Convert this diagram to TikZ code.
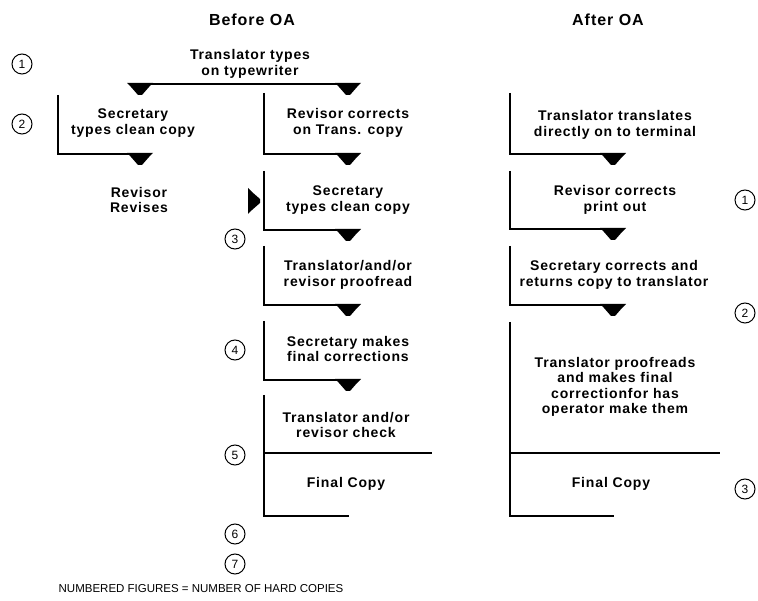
\documentclass[tikz,border=0pt]{standalone}
\usepackage{fontspec}
\setmainfont{Liberation Sans}
\newfontfamily\widefont[LetterSpace=6]{Liberation Sans}
\usetikzlibrary{calc}

\begin{document}
\begin{tikzpicture}[x=1pt,y=-1pt,line width=1.8pt,
  stage/.style={font=\widefont\bfseries\fontsize{14}{15.5}\selectfont,align=center,inner sep=0pt},
  headline/.style={font=\widefont\bfseries\fontsize{16}{18}\selectfont,inner sep=0pt},
  copies/.style={draw,circle,line width=1pt,inner sep=0pt,minimum size=20pt,font=\fontsize{12}{12}\selectfont},
  blockarrow/.pic={\fill (-13,-1) -- (13,-1) -- (9,3) -- (2,11) -- (-2,11) -- (-9,3) -- cycle;}]
\useasboundingbox (0,0) rectangle (758,601);

\node[headline] (before) at (252,20) {Before OA};
\node[headline] (after) at (608,20) {After OA};

\node[stage] (L0) at (250,64) {Translator types\\on typewriter};
\node[stage] (L1) at (133,123) {Secretary\\types clean copy};
\node[stage] (L2) at (139,200) {Revisor\\Revises};
\node[stage] (M1) at (348,123) {Revisor corrects\\on Trans. copy};
\node[stage] (M2) at (348,200) {Secretary\\types clean copy};
\node[stage] (M3) at (348,275) {Translator/and/or\\revisor proofread};
\node[stage] (M4) at (348,349) {Secretary makes\\final corrections};
\node[stage] (M5) at (346,425) {Translator and/or\\revisor check};
\node[stage] (M6) at (346,484) {Final Copy};
\node[stage] (R1) at (615,125) {Translator translates\\directly on to terminal};
\node[stage] (R2) at (615,200) {Revisor corrects\\print out};
\node[stage] (R3) at (614,275) {Secretary corrects and\\returns copy to translator};
\node[stage] (R4) at (615,387) {Translator proofreads\\and makes final\\correctionfor has\\operator make them};
\node[stage] (R5) at (611,484) {Final Copy};

\node[copies] (c1) at (22,64) {1};
\node[copies] (c2) at (22,124) {2};
\node[copies] (c3) at (235,239) {3};
\node[copies] (c4) at (235,350) {4};
\node[copies] (c5) at (235,455) {5};
\node[copies] (c6) at (235,534) {6};
\node[copies] (c7) at (235,564) {7};
\node[copies] (r1) at (745,200) {1};
\node[copies] (r2) at (745,313) {2};
\node[copies] (r3) at (745,489) {3};

\coordinate (A0) at (140,84); \coordinate (A1) at (348,84);
\draw (A0) -- (A1);
\pic at (A0) {blockarrow}; \pic at (A1) {blockarrow};

\coordinate (L1t) at (58,95); \coordinate (L1a) at (140,154);
\draw (L1t) |- (L1a); \pic at (L1a) {blockarrow};

\foreach \t/\b [count=\i] in {93/154,171/230,246/305,321/380}{
  \coordinate (M\i t) at (264,\t); \coordinate (M\i a) at (348,\b);
  \draw (M\i t) |- (M\i a); \pic at (M\i a) {blockarrow};
}
\pic[rotate=90] at (249,201) {blockarrow};

\coordinate (M5t) at (264,395); \coordinate (M5m) at (432,453); \coordinate (M5b) at (349,516);
\draw (M5t) |- (M5b); \draw (M5t |- M5m) -- (M5m);

\foreach \t/\b [count=\i] in {93/154,171/229,246/305}{
  \coordinate (R\i t) at (510,\t); \coordinate (R\i a) at (613,\b);
  \draw (R\i t) |- (R\i a); \pic at (R\i a) {blockarrow};
}
\coordinate (R4t) at (510,322); \coordinate (R4m) at (720,453); \coordinate (R4b) at (614,516);
\draw (R4t) |- (R4b); \draw (R4t |- R4m) -- (R4m);

\node[font=\fontsize{11.5}{13}\selectfont,inner sep=0pt] (note) at (201,589) {NUMBERED FIGURES = NUMBER OF HARD COPIES};
\end{tikzpicture}
\end{document}
